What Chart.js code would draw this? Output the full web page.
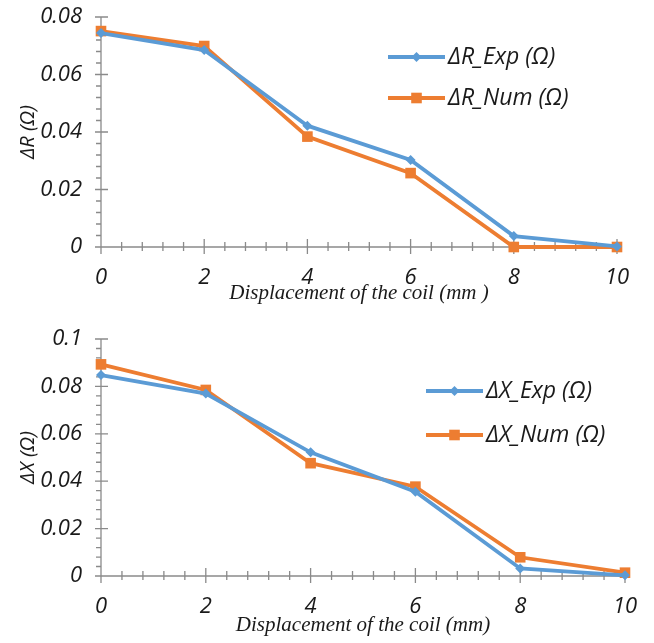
<!DOCTYPE html>
<html>
<head>
<meta charset="utf-8">
<script src="https://cdn.jsdelivr.net/npm/chart.js@4.4.1/dist/chart.umd.min.js"></script>
<style>
    body { margin: 0; background: #fff; }
    canvas { display: block; }
</style>
</head>
<body>
<canvas id="chartR" width="654" height="320"></canvas>
<canvas id="chartX" width="654" height="323"></canvas>
<script>
// values
const displacement = [0, 2, 4, 6, 8, 10];
const deltaR_exp = [0.0744, 0.0685, 0.0422, 0.0303, 0.0038, 0.0002];
const deltaR_num = [0.0751, 0.0699, 0.0384, 0.0257, 0.0000, 0.0000];
const deltaX_exp = [0.0848, 0.0770, 0.0522, 0.0356, 0.0032, 0.0003];
const deltaX_num = [0.0893, 0.0785, 0.0476, 0.0377, 0.0079, 0.0014];

const blue = '#5B9BD5';
const orange = '#ED7D31';
const axisGray = '#8a8a8a';
const sansFont = "'Open Sans', 'Noto Sans', sans-serif";
const serifFont = "'Liberation Serif', 'DejaVu Serif', serif";

function drawMarker(ctx, style, x, y, r) {
    ctx.beginPath();
    if (style === 'rectRot') {
        ctx.moveTo(x, y - r);
        ctx.lineTo(x + r, y);
        ctx.lineTo(x, y + r);
        ctx.lineTo(x - r, y);
    } else {
        const s = r * Math.SQRT1_2;
        ctx.rect(x - s, y - s, 2 * s, 2 * s);
    }
    ctx.closePath();
    ctx.fill();
}

// Excel-like axes with major and minor tick marks
const excelAxes = {
    id: 'excelAxes',
    beforeDatasetsDraw(chart, args, opts) {
        const ctx = chart.ctx;
        const xs = chart.scales.x;
        const ys = chart.scales.y;
        const x0 = xs.getPixelForValue(xs.min);
        const x1 = xs.getPixelForValue(xs.max);
        const y0 = ys.getPixelForValue(ys.min);
        const y1 = ys.getPixelForValue(ys.max);
        ctx.save();
        ctx.strokeStyle = axisGray;
        ctx.lineWidth = 1.3;
        ctx.beginPath();
        ctx.moveTo(x0, y1);
        ctx.lineTo(x0, y0);
        ctx.lineTo(x1, y0);

        const nY = Math.round((ys.max - ys.min) / opts.yMinor);
        for (let i = 0; i <= nY; i++) {
            const py = ys.getPixelForValue(ys.min + i * opts.yMinor);
            if (i % opts.every === 0) {
                ctx.moveTo(x0 - 6, py);
                ctx.lineTo(x0 + 7, py);
            } else {
                ctx.moveTo(x0 - 5, py);
                ctx.lineTo(x0, py);
            }
        }
        const nX = Math.round((xs.max - xs.min) / opts.xMinor);
        for (let i = 0; i <= nX; i++) {
            const px = xs.getPixelForValue(xs.min + i * opts.xMinor);
            const len = i % opts.every === 0 ? 8 : 5;
            ctx.moveTo(px, y0 - len);
            ctx.lineTo(px, y0 + len - 1);
        }
        ctx.stroke();
        ctx.restore();
    }
};

// legend drawn inside the plot: line with marker, then the label
const lineLegend = {
    id: 'lineLegend',
    afterDraw(chart, args, opts) {
        const ctx = chart.ctx;
        chart.data.datasets.forEach((ds, i) => {
            const y = opts.y + i * opts.gap;
            ctx.save();
            ctx.strokeStyle = ds.borderColor;
            ctx.lineWidth = ds.borderWidth;
            ctx.beginPath();
            ctx.moveTo(opts.x, y);
            ctx.lineTo(opts.x + opts.len, y);
            ctx.stroke();
            ctx.fillStyle = ds.pointBackgroundColor;
            drawMarker(ctx, ds.pointStyle, opts.x + opts.len / 2, y, ds.pointRadius);
            ctx.fillStyle = '#1a1a1a';
            ctx.font = 'italic 23px ' + sansFont;
            ctx.textBaseline = 'middle';
            ctx.fillText(ds.label, opts.x + opts.len + 3, y);
            ctx.restore();
        });
    }
};

function makeSeries(label, values, color, style, radius) {
    return {
        label: label,
        data: displacement.map((d, i) => ({ x: d, y: values[i] })),
        borderColor: color,
        backgroundColor: color,
        pointBackgroundColor: color,
        borderWidth: 3.8,
        pointStyle: style,
        pointRadius: radius,
        pointBorderWidth: 0,
        tension: 0,
        clip: false
    };
}

function renderPanel(canvasId, series, yMax, yTitle, xTitle, layout) {
    const ctx = document.getElementById(canvasId).getContext('2d');
    return new Chart(ctx, {
        type: 'line',
        data: { datasets: series },
        plugins: [excelAxes, lineLegend],
        options: {
            responsive: false,
            animation: false,
            layout: {
                padding: { left: 0, right: layout.right, top: layout.top, bottom: 0 }
            },
            plugins: {
                legend: { display: false },
                tooltip: { enabled: false },
                excelAxes: { yMinor: 0.004, xMinor: 0.4, every: 5 },
                lineLegend: layout.legend
            },
            scales: {
                x: {
                    type: 'linear',
                    min: 0,
                    max: 10,
                    grid: { display: false },
                    border: { display: false },
                    afterFit: (scale) => {
                        scale.height = layout.xHeight;
                        scale.paddingLeft = 0;
                        scale.paddingRight = 0;
                    },
                    ticks: {
                        stepSize: 2,
                        padding: 10,
                        color: '#1a1a1a',
                        font: { family: sansFont, size: 22, style: 'italic' }
                    },
                    title: {
                        display: true,
                        text: xTitle,
                        color: '#1a1a1a',
                        padding: { top: 0, bottom: layout.xTitlePad },
                        font: { family: serifFont, size: 21, style: 'italic' }
                    }
                },
                y: {
                    min: 0,
                    max: yMax,
                    grid: { display: false },
                    border: { display: false },
                    afterFit: (scale) => {
                        // fixed axis width, and no extra room for the top label
                        scale.width = 101;
                        scale.paddingTop = 0;
                        scale.paddingBottom = 0;
                    },
                    ticks: {
                        stepSize: 0.02,
                        padding: 11,
                        color: '#1a1a1a',
                        font: { family: sansFont, size: 22, style: 'italic' },
                        callback: (v) => String(parseFloat(v.toFixed(2)))
                    },
                    title: {
                        display: true,
                        text: yTitle,
                        color: '#1a1a1a',
                        padding: { top: 16, bottom: 0 },
                        font: { family: sansFont, size: 20, style: 'italic' }
                    }
                }
            }
        }
    });
}

renderPanel('chartR', [
    makeSeries('ΔR_Exp (Ω)', deltaR_exp, blue, 'rectRot', 5),
    makeSeries('ΔR_Num (Ω)', deltaR_num, orange, 'rect', 7.5)
], 0.08, 'ΔR (Ω)', 'Displacement of the coil (mm )', {
    right: 37, top: 17, xHeight: 73, xTitlePad: 14,
    legend: { x: 388, y: 57, gap: 41, len: 57 }
});

renderPanel('chartX', [
    makeSeries('ΔX_Exp (Ω)', deltaX_exp, blue, 'rectRot', 5),
    makeSeries('ΔX_Num (Ω)', deltaX_num, orange, 'rect', 7.5)
], 0.1, 'ΔX (Ω)', 'Displacement of the coil (mm)', {
    right: 29, top: 19, xHeight: 67, xTitlePad: 5,
    legend: { x: 426, y: 71, gap: 44, len: 57 }
});
</script>
</body>
</html>
